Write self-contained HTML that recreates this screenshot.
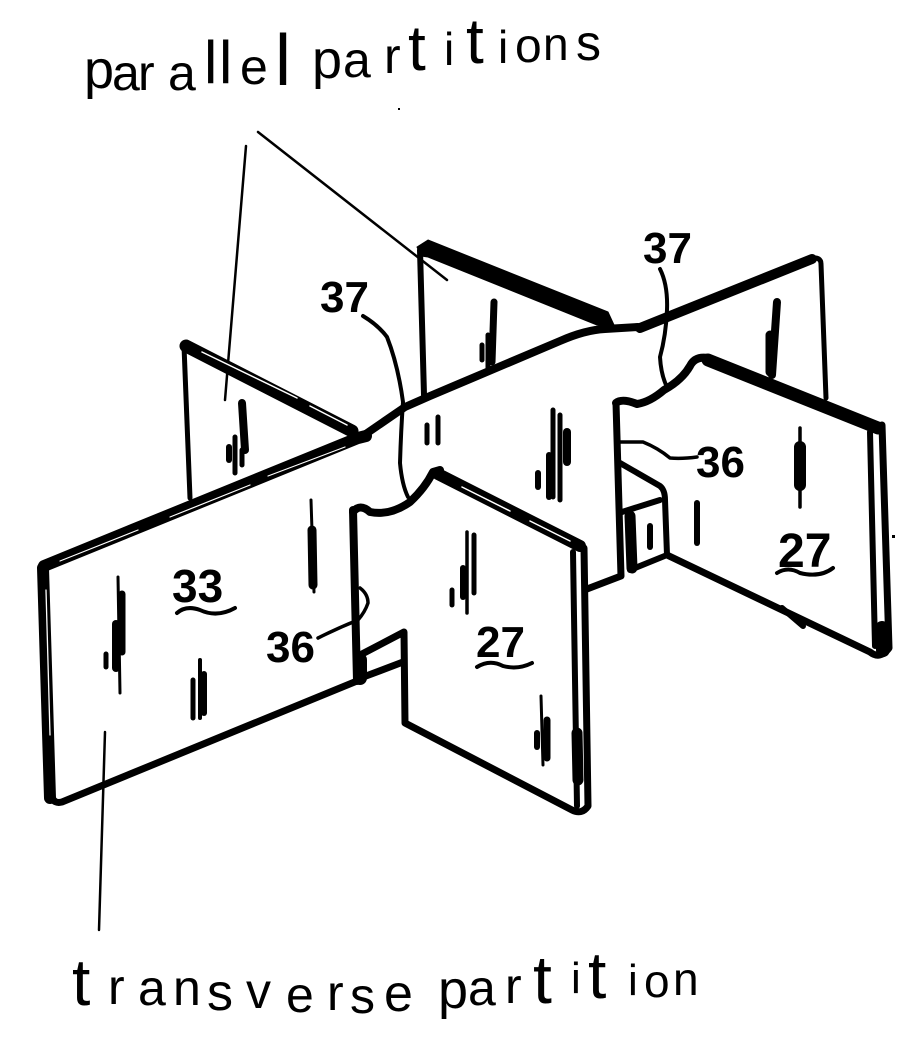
<!DOCTYPE html>
<html><head><meta charset="utf-8"><style>
html,body{margin:0;padding:0;background:#fff}
svg{display:block}
.h{font-family:"Liberation Sans",sans-serif;fill:#000}
.n{font-family:"Liberation Sans",sans-serif;font-size:44px;font-weight:bold;fill:#000}
</style></head><body>
<svg width="915" height="1047" viewBox="0 0 915 1047" xmlns="http://www.w3.org/2000/svg">
<g fill="none" stroke="#000" stroke-linecap="round" stroke-linejoin="round">
<!-- leaders -->
<path d="M258 132L447 280M246 146L225 400M105 732L99 930" stroke-width="2.5"/>
<!-- back left panel -->
<path d="M184 346L190 498" stroke-width="5"/>
<path d="M186 346L352 431" stroke-width="13"/>
<path d="M202 352L297 398M310 406L347 425" stroke="#fff" stroke-width="1.5"/>
<!-- back middle panel -->
<path d="M420 250L424 395" stroke-width="6"/>
<path d="M417 247L428 240L608 312L614 325L597 325L428 257L421 256Z" fill="#000" stroke-width="1"/>
<!-- back right panel -->
<path d="M636 328L812 258Q821 257 821 264L826 398" stroke-width="5"/>
<path d="M640 328L812 259" stroke-width="10"/>
<!-- transverse top edge -->
<path d="M44 566L357 440L405 407L430 396L560 341Q585 330 605 329L638 327" stroke-width="8"/>
<path d="M44 566L358 438L366 436" stroke-width="12"/>
<path d="M60 561L138 530M170 517L250 485M268 476L345 447" stroke="#fff" stroke-width="1.2"/>
<!-- transverse panel 33 -->
<path d="M45 566L52 797Q54 804 62 802L357 681" stroke-width="7"/>
<path d="M43 568L50 798" stroke-width="12"/>
<path d="M46 590L50 735" stroke="#fff" stroke-width="1.3"/>
<!-- slot curves -->
<path d="M363 316Q378 325 387 337Q398 365 403 402Q401 430 400 463Q402 485 408 497" stroke-width="4"/>
<path d="M660 269Q668 285 667 310Q666 335 660 357Q661 375 667 387" stroke-width="4"/>
<path d="M360 588Q368 594 368 603Q365 612 358 620Q338 628 318 638" stroke-width="3.5"/>
<path d="M620 442L643 442Q658 448 670 458Q682 459 697 457" stroke-width="3.5"/>
<!-- front panel 27 -->
<path d="M353 512Q360 503 370 512Q390 516 410 502Q425 488 433 472L440 470" stroke-width="8"/>
<path d="M353 510L357 681" stroke-width="8"/>
<path d="M438 474L580 546" stroke-width="12"/>
<path d="M462 487L510 511M530 521L570 541" stroke="#fff" stroke-width="1.5"/>
<path d="M584 548L588 806Q582 815 572 810L405 723L404 632L362 654" stroke-width="7"/>
<path d="M573 552L577 806" stroke-width="6"/>
<path d="M577 733L578 780" stroke-width="11"/>
<path d="M403 662L366 676" stroke-width="7"/>
<path d="M360 660L360 678" stroke-width="14"/>
<path d="M587 589L621 576L616 403" stroke-width="7"/>
<!-- front right panel 27 -->
<path d="M616 403Q622 398 637 404Q650 402 664 390Q682 380 690 366Q695 356 708 358" stroke-width="8"/>
<path d="M708 360L878 428" stroke-width="13"/>
<path d="M882 425L889 648Q880 660 870 652L667 555" stroke-width="7"/>
<path d="M870 432L875 646" stroke-width="6"/>
<path d="M882 628L883 650" stroke-width="14"/>
<path d="M782 608L803 626" stroke-width="6"/>
<!-- notch right -->
<path d="M620 463L660 486Q665 490 665 500L667 555L630 570" stroke-width="6"/>
<path d="M622 512L660 500" stroke-width="6"/>
<path d="M630 516L632 568" stroke-width="11"/>
<!-- hatch marks -->
<g>
<path d="M242 403L245 450" stroke-width="8"/><path d="M235 437V473M242 450V465" stroke-width="5"/><path d="M229 447V460" stroke-width="6"/>
<path d="M494 302L492 362" stroke-width="7"/><path d="M488 335V372" stroke-width="5"/><path d="M482 345V360" stroke-width="5"/>
<path d="M777 302L772 375" stroke-width="8"/><path d="M770 335V372" stroke-width="9"/>
<path d="M427 425V443M438 417V443" stroke-width="5"/>
<path d="M553 410V497M560 415V500" stroke-width="5"/><path d="M567 432V462" stroke-width="8"/><path d="M549 455V497" stroke-width="6"/><path d="M538 473V487" stroke-width="6"/>
<path d="M467 532V613" stroke-width="3.5"/><path d="M474 535V593" stroke-width="5"/><path d="M463 568V597" stroke-width="6"/><path d="M452 590V605" stroke-width="5"/>
<path d="M800 428V507" stroke-width="3.5"/><path d="M800 447V485" stroke-width="12"/>
<path d="M697 503V543" stroke-width="6"/>
<path d="M650 526V547" stroke-width="6"/>
<path d="M311 500L314 592" stroke-width="3"/><path d="M312 530L313 585" stroke-width="9"/>
<path d="M118 577L120 693" stroke-width="3"/><path d="M122 594V652" stroke-width="7"/><path d="M116 624V668" stroke-width="8"/><path d="M106 654V667" stroke-width="5"/>
<path d="M193 680V718" stroke-width="5"/><path d="M200 660V718" stroke-width="4"/><path d="M204 674V713" stroke-width="6"/>
<path d="M541 696L543 765" stroke-width="3"/><path d="M547 720V758" stroke-width="7"/><path d="M537 733V747" stroke-width="6"/>
</g>
<!-- underlines -->
<g stroke-width="4">
<path d="M177 613Q186 605 200 610Q217 618 235 608"/>
<path d="M477 667Q490 659 503 666Q518 670 532 663"/>
<path d="M777 573Q788 566 800 573Q820 578 833 568"/>
</g>
</g>
<rect x="398" y="108" width="2" height="2" fill="#000"/>
<rect x="892" y="535" width="3" height="3" fill="#000"/>
<!-- numbers -->
<text class="n" x="320" y="312">37</text>
<text class="n" x="643" y="263">37</text>
<text class="n" x="266" y="662">36</text>
<text class="n" x="696" y="477">36</text>
<text class="n" x="172" y="602" style="font-size:46px">33</text>
<text class="n" x="476" y="657">27</text>
<text class="n" x="778" y="567" style="font-size:48px">27</text>
<!-- hand lettering -->
<text class="h"><tspan x="84" y="88" font-size="54">p</tspan><tspan x="112" y="90" font-size="50">a</tspan><tspan x="138" y="90" font-size="50">r</tspan><tspan x="168" y="90" font-size="50">a</tspan><tspan x="204" y="83" font-size="60">l</tspan><tspan x="219" y="83" font-size="60">l</tspan><tspan x="240" y="84" font-size="50">e</tspan><tspan x="275" y="85" font-size="72">l</tspan><tspan> </tspan><tspan x="312" y="78" font-size="54">p</tspan><tspan x="343" y="77" font-size="50">a</tspan><tspan x="384" y="73" font-size="50">r</tspan><tspan x="408" y="70" font-size="64">t</tspan><tspan x="444" y="65" font-size="46">i</tspan><tspan x="466" y="63" font-size="64">t</tspan><tspan x="498" y="63" font-size="46">i</tspan><tspan x="515" y="62" font-size="48">o</tspan><tspan x="543" y="60" font-size="46">n</tspan><tspan x="576" y="60" font-size="50">s</tspan></text>
<text class="h"><tspan x="72" y="1005" font-size="66">t</tspan><tspan x="108" y="1004" font-size="50">r</tspan><tspan x="138" y="1005" font-size="50">a</tspan><tspan x="173" y="1005" font-size="50">n</tspan><tspan x="207" y="1010" font-size="52">s</tspan><tspan x="246" y="1008" font-size="50">v</tspan><tspan x="286" y="1012" font-size="50">e</tspan><tspan x="327" y="1010" font-size="50">r</tspan><tspan x="350" y="1013" font-size="50">s</tspan><tspan x="384" y="1011" font-size="52">e</tspan><tspan> </tspan><tspan x="438" y="1008" font-size="54">p</tspan><tspan x="468" y="1005" font-size="50">a</tspan><tspan x="505" y="1003" font-size="50">r</tspan><tspan x="533" y="1003" font-size="68">t</tspan><tspan x="571" y="993" font-size="44">i</tspan><tspan x="588" y="998" font-size="66">t</tspan><tspan x="628" y="995" font-size="44">i</tspan><tspan x="644" y="997" font-size="46">o</tspan><tspan x="673" y="995" font-size="46">n</tspan></text>
</svg>
</body></html>
